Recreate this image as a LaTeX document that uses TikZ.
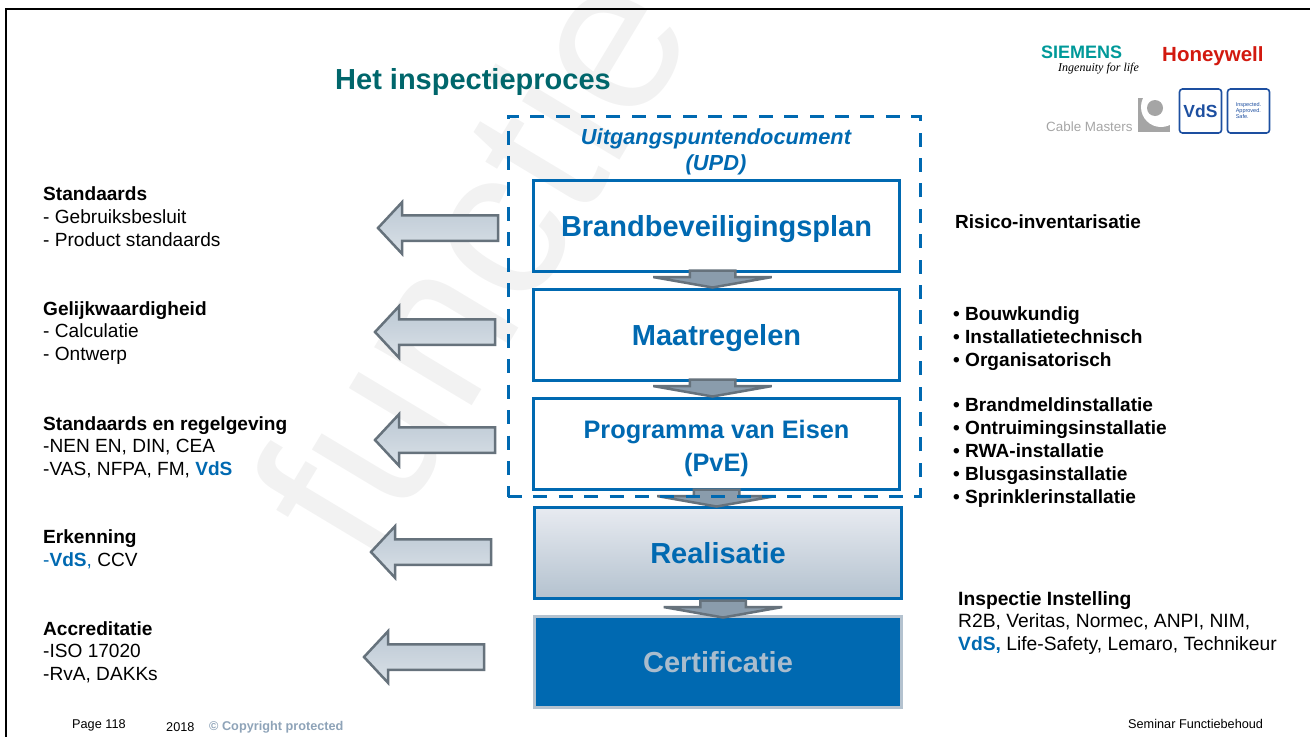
\documentclass[tikz,border=0pt]{standalone}
\usepackage{fontspec}
\setmainfont{Liberation Sans}
\newfontfamily\logoscript{Liberation Serif}
\usepackage{tikz}
\usetikzlibrary{positioning, arrows, shapes}
\usetikzlibrary{shapes.arrows}
\definecolor{boxblue}{HTML}{0069B1}
\definecolor{titleteal}{HTML}{00666B}
\definecolor{arrowgrey}{HTML}{66727C}
\definecolor{arrowfill}{HTML}{8A9CAC}
\definecolor{paleblue}{HTML}{A9BCCD}
\definecolor{copygrey}{HTML}{8EA3B8}
\definecolor{rimgrey}{HTML}{B4C2CF}
\definecolor{fadetop}{HTML}{E8EBF1}
\definecolor{siemensteal}{HTML}{009999}
\definecolor{honeyred}{HTML}{D2190F}
\definecolor{vdsblue}{HTML}{1D4FA0}
\definecolor{logogrey}{HTML}{A5A5A5}
\tikzstyle{plainblock} = [rectangle, draw=boxblue, line width=3pt, text=boxblue, align=center,
minimum width=366pt, minimum height=91pt, text height=21pt, text depth=0pt, inner sep=0pt,
font=\fontsize{29}{33}\selectfont\bfseries]
\tikzstyle{fadeblock} = [plainblock, top color=fadetop, bottom color=rimgrey, minimum width=367pt, xshift=1.5pt]
\tikzstyle{darkblock} = [plainblock, draw=rimgrey, fill=boxblue, text=paleblue, minimum width=367pt]
\tikzstyle{sidearrow} = [single arrow, shape border rotate=180, draw=arrowgrey, line width=2.5pt,
top color=rimgrey!90, bottom color=rimgrey!50, inner xsep=0pt, inner ysep=11.5pt, outer sep=0pt,
minimum height=120pt, single arrow head extend=13pt, single arrow tip angle=94, anchor=tail]
\tikzstyle{stackarrow} = [single arrow, shape border rotate=270, draw=arrowgrey, line width=2.5pt,
fill=arrowfill, inner xsep=21.5pt, inner ysep=0pt, outer sep=0pt,
minimum height=17pt, single arrow head extend=36.5pt, single arrow tip angle=160, anchor=tail]
\tikzstyle{sidetext} = [anchor=west, align=left, inner sep=0pt, font=\fontsize{19.1}{22.7}\selectfont]
\tikzstyle{foottext} = [anchor=west, inner sep=0pt, font=\fontsize{12.7}{14}\selectfont]
\tikzstyle{vdsbox} = [rectangle, draw=vdsblue, line width=1.6pt, rounded corners=3pt,
minimum width=42pt, minimum height=44pt, text=vdsblue, inner sep=0pt]
\newcommand{\vds}[1]{\textcolor{boxblue}{\textbf{#1}}}

\begin{document}
\begin{tikzpicture}[x=1pt, y=-1pt, node distance=109pt]
        \useasboundingbox (0,0) rectangle (1310,737);
        \node (Watermark) [anchor=base west, rotate=59, inner sep=0pt, text=black!5,
            font=\fontsize{215}{215}\selectfont] at (372,572) {functie};

        \coordinate (FrameCorner) at (6,9);
        \coordinate (FrameRight) at (1310,9);
        \coordinate (FrameLow) at (6,737);
        \draw [line width=2.5pt] (FrameRight) -- (FrameCorner) -- (FrameLow);

        \node (Title) [anchor=west, inner sep=0pt, text=titleteal,
            font=\fontsize{29}{32}\selectfont\bfseries] at (335,82) {Het inspectieproces};

        \node (Plan) [plainblock] at (716.5,225.5) {Brandbeveiligingsplan};
        \node (Measures) [plainblock, below of=Plan] {Maatregelen};
        \node (Program) [plainblock, below of=Measures, text height=56pt, font=\fontsize{25.3}{33}\selectfont\bfseries] {Programma van Eisen\\(PvE)};
        \node (Build) [fadeblock, below of=Program] {Realisatie};
        \node (Cert) [darkblock, below of=Build] {Certificatie};

        \node (PlanDown) [stackarrow, xshift=-4pt, yshift=2pt] at (Plan.south) {};
        \node (MeasuresDown) [stackarrow, xshift=-4pt, yshift=2pt] at (Measures.south) {};
        \node (ProgramDown) [stackarrow, yshift=1pt] at (Program.south) {};
        \node (BuildDown) [stackarrow, xshift=5pt, yshift=-1pt] at (Build.south) {};

        \node (Upd) [rectangle, draw=boxblue, line width=3pt, dash pattern=on 14pt off 11.4pt, outer sep=0pt,
            minimum width=412pt, minimum height=380.5pt, anchor=north west] at (508,116) {};
        \node (UpdLabel) [inner sep=0pt, align=center, text=boxblue,
            font=\fontsize{21.8}{26}\selectfont\bfseries\itshape] at (716,152) {Uitgangspuntendocument\\(UPD)};

        \node (PlanArrow) [sidearrow] at (498,228) {};
        \node (MeasuresArrow) [sidearrow] at (495,332) {};
        \node (ProgramArrow) [sidearrow] at (495,440) {};
        \node (BuildArrow) [sidearrow] at (491,552) {};
        \node (CertArrow) [sidearrow] at (484,657) {};

        \node (LeftPlan) [sidetext] at (43,216.5) {\textbf{Standaards}\\- Gebruiksbesluit\\- Product standaards};
        \node (LeftMeasures) [sidetext] at (43,333) {\textbf{Gelijkwaardigheid}\\- Calculatie\\- Ontwerp};
        \node (LeftProgram) [sidetext] at (43,447) {\textbf{Standaards en regelgeving}\\-NEN EN, DIN, CEA\\-VAS, NFPA, FM, \vds{VdS}};
        \node (LeftBuild) [sidetext] at (43,549.5) {\textbf{Erkenning}\\\textcolor{boxblue}{-}\vds{VdS}\textcolor{boxblue}{,} CCV};
        \node (LeftCert) [sidetext] at (43,652) {\textbf{Accreditatie}\\-ISO 17020\\-RvA, DAKKs};

        \node (RightPlan) [sidetext, font=\fontsize{19}{22.7}\selectfont\bfseries] at (955,222) {Risico-inventarisatie};
        \node (RightMeasures) [sidetext, font=\fontsize{19.1}{22.7}\selectfont\bfseries] at (953,338.5) {• Bouwkundig\\• Installatietechnisch\\• Organisatorisch};
        \node (RightProgram) [sidetext, font=\fontsize{19.1}{23}\selectfont\bfseries] at (953,453) {• Brandmeldinstallatie\\• Ontruimingsinstallatie\\• RWA-installatie\\• Blusgasinstallatie\\• Sprinklerinstallatie};
        \node (RightCert) [sidetext, font=\fontsize{19.25}{22.7}\selectfont] at (958,623) {\textbf{Inspectie Instelling}\\R2B, Veritas, Normec, ANPI, NIM,\\\vds{VdS,} Life-Safety, Lemaro, Technikeur};

        \node (Page) [foottext] at (72,725.5) {Page 118};
        \node (Year) [foottext] at (166,727) {2018};
        \node (Copy) [foottext, text=copygrey, font=\fontsize{12.7}{14}\selectfont\bfseries] at (209,727) {© Copyright protected};
        \node (Seminar) [foottext] at (1128,723.5) {Seminar Functiebehoud};

        \node (CableText) [anchor=west, inner sep=0pt, text=logogrey, font=\fontsize{13.4}{14}\selectfont] at (1046,127) {Cable Masters};
        \node (CableLogo) [rectangle, fill=logogrey, minimum width=32pt, minimum height=34pt, inner sep=0pt] at (1154,115) {};
        \node (CableRing) [circle, fill=white, minimum size=40pt, inner sep=0pt] at (1161,107) {};
        \node (CableDot) [circle, fill=logogrey, minimum size=16pt, inner sep=0pt] at (1155,108) {};
        \node (Siemens) [anchor=west, inner sep=0pt, text=siemensteal, font=\fontsize{18}{20}\selectfont\bfseries] at (1041,52) {SIEMENS};
        \node (Ingenuity) [anchor=west, inner sep=0pt, font=\fontsize{12}{14}\logoscript\itshape] at (1058,69) {Ingenuity for life};
        \node (Honeywell) [anchor=west, inner sep=0pt, text=honeyred, font=\fontsize{20.5}{24}\selectfont\bfseries] at (1162,56) {Honeywell};
        \node (VdsLogo) [vdsbox, font=\fontsize{17.5}{20}\selectfont\bfseries] at (1200.5,111) {VdS};
        \node (VdsClaim) [vdsbox, align=left, font=\fontsize{5.5}{6}\selectfont] at (1248.5,111) {Inspected.\\Approved.\\Safe.};
\end{tikzpicture}
\end{document}
